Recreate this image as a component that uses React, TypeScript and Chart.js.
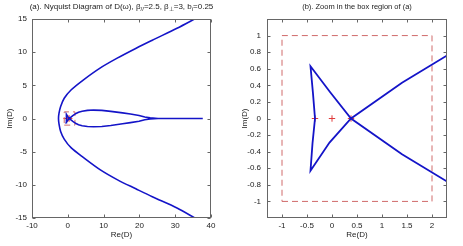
import React, { useEffect, useRef } from "react";
import { Chart, registerables } from "chart.js";
Chart.register(...registerables);

// Outer branch of D(omega)
const outerRe = [35.8, 30.5, 23.6, 19.1, 13.8, 9.0, 4.3, 0.9, -1.0, -2.0, -2.45, -2.6, -2.45, -2.0, -1.0, 0.9, 4.4, 9.1, 13.9, 19.0, 23.6, 30.5, 35.8];
const outerIm = [15.1, 13.6, 11.8, 10.6, 9.1, 7.6, 5.8, 4.3, 3.05, 1.8, 0.8, 0, -0.85, -1.95, -3.1, -4.4, -5.9, -7.75, -9.25, -10.6, -11.8, -13.5, -15.1];

// Inner loop branch
const loopRe = [37.7, 25.2, 23, 21.5, 19.9, 17.5, 15.3, 12, 9.5, 7.2, 5.5, 4, 3.0, 2.3, 1.4, 0.38, -0.05, -0.43, -0.39, -0.34, -0.38, -0.43, -0.04, 0.38, 1.4, 2.3, 3.0, 4, 5.5, 7.2, 9.5, 12, 15.3, 17.5, 19.9, 21.5, 23, 25.2, 37.7];
const loopIm = [0, 0, 0.1, 0.22, 0.45, 0.68, 0.85, 1.08, 1.22, 1.27, 1.22, 1.1, 0.95, 0.76, 0.43, 0, -0.29, -0.63, -0.3, 0, 0.3, 0.63, 0.32, 0, -0.43, -0.76, -0.95, -1.1, -1.2, -1.25, -1.2, -1.05, -0.8, -0.62, -0.42, -0.2, -0.08, 0, 0];

// Red "+" markers
const markRe = [-0.34, 0, 0.38];
const markIm = [0, 0, 0];

// Zoom box
const boxRe = [-1, 2, 2, -1, -1];
const boxIm = [-1, -1, 1, 1, -1];

// Ticks
const leftXTicks = [-10, 0, 10, 20, 30, 40];
const leftYTicks = [-15, -10, -5, 0, 5, 10, 15];
const rightXTicks = [-1, -0.5, 0, 0.5, 1, 1.5, 2];
const rightYTicks = [-1, -0.8, -0.6, -0.4, -0.2, 0, 0.2, 0.4, 0.6, 0.8, 1];

const leftTitle = [
  { t: "(a). Nyquist Diagram of D(\u03c9), \u03b2" },
  { t: "//", sub: true },
  { t: "=2.5, \u03b2" },
  { t: "\u22a5", sub: true },
  { t: "=3, b" },
  { t: "i", sub: true },
  { t: "=0.25" },
];
const rightTitle = [{ t: "(b). Zoom in the box region of (a)" }];

const FONT = "Liberation Sans, Arial, sans-serif";
const zip = (a: number[], b: number[]) => a.map((x, i) => ({ x, y: b[i] }));
const fmt = (v: number) => String(Math.round(v * 10) / 10);

const framePlugin = {
  id: "frame",
  afterDraw(chart: any, _args: any, opts: any) {
    const { ctx, chartArea: a, scales } = chart;
    const L = Math.round(a.left) + 0.5, R = Math.round(a.right) - 0.5;
    const T = Math.round(a.top) + 0.5, B = Math.round(a.bottom) - 0.5;
    ctx.save();
    ctx.strokeStyle = "#666";
    ctx.lineWidth = 1;
    ctx.strokeRect(L, T, R - L, B - T);
    ctx.beginPath();
    const tl = 3;
    for (const v of opts.xTicks) {
      const p = Math.round(scales.x.getPixelForValue(v)) + 0.5;
      ctx.moveTo(p, B); ctx.lineTo(p, B - tl);
      ctx.moveTo(p, T); ctx.lineTo(p, T + tl);
    }
    for (const v of opts.yTicks) {
      const p = Math.round(scales.y.getPixelForValue(v)) + 0.5;
      ctx.moveTo(L, p); ctx.lineTo(L + tl, p);
      ctx.moveTo(R, p); ctx.lineTo(R - tl, p);
    }
    ctx.stroke();

    ctx.fillStyle = "#222";
    ctx.textBaseline = "middle";
    const fs = opts.titleSize;
    const subFs = fs * 0.75;
    let total = 0;
    for (const s of opts.title) {
      ctx.font = `${s.sub ? subFs : fs}px ${FONT}`;
      total += ctx.measureText(s.t).width;
    }
    let x = (a.left + a.right) / 2 - total / 2;
    ctx.textAlign = "left";
    for (const s of opts.title) {
      ctx.font = `${s.sub ? subFs : fs}px ${FONT}`;
      ctx.fillText(s.t, x, opts.titleY + (s.sub ? 2.5 : 0));
      x += ctx.measureText(s.t).width;
    }
    ctx.font = `8px ${FONT}`;
    ctx.textAlign = "center";
    ctx.fillText("Re(D)", (a.left + a.right) / 2, 235);
    ctx.save();
    ctx.translate(opts.ylabX, (a.top + a.bottom) / 2);
    ctx.rotate(-Math.PI / 2);
    ctx.fillText("Im(D)", 0, 0);
    ctx.restore();
    ctx.restore();
  },
};

type PanelProps = {
  left: number;
  width: number;
  xMin: number; xMax: number; yMin: number; yMax: number;
  xTicks: number[]; yTicks: number[];
  yAxisW: number; padRight: number;
  title: { t: string; sub?: boolean }[];
  titleSize: number;
  ylabX: number;
  yPad: number;
  lineW: number;
};

function Panel(p: PanelProps) {
  const ref = useRef<HTMLCanvasElement | null>(null);
  useEffect(() => {
    if (!ref.current) return;
    const blue = "#1414c8";
    const chart = new Chart(ref.current, {
      type: "scatter",
      data: {
        datasets: [
          {
            data: zip(outerRe, outerIm),
            showLine: true,
            borderColor: blue,
            borderWidth: p.lineW,
            pointRadius: 0,
            tension: 0.3,
          },
          {
            data: zip(loopRe, loopIm),
            showLine: true,
            borderColor: blue,
            borderWidth: p.lineW,
            pointRadius: 0,
            tension: 0,
          },
          {
            data: zip(boxRe, boxIm),
            showLine: true,
            borderColor: "#d06a6a",
            borderWidth: 1,
            borderDash: [6, 4],
            pointRadius: 0,
          },
          {
            data: zip(markRe, markIm),
            showLine: false,
            pointStyle: "cross",
            pointRadius: 3.2,
            borderColor: "#e03a3a",
            backgroundColor: "#e03a3a",
            borderWidth: 1,
          },
        ],
      },
      options: {
        animation: false,
        responsive: false,
        events: [],
        layout: { padding: { left: 0, right: p.padRight, top: 19, bottom: 0 } },
        plugins: {
          legend: { display: false },
          tooltip: { enabled: false },
          frame: {
            xTicks: p.xTicks,
            yTicks: p.yTicks,
            title: p.title,
            titleSize: p.titleSize,
            titleY: 7,
            ylabX: p.ylabX,
          },
        } as any,
        scales: {
          x: {
            type: "linear",
            min: p.xMin,
            max: p.xMax,
            grid: { display: false, drawTicks: false },
            border: { display: false },
            afterFit: (s: any) => { s.height = 28; },
            afterBuildTicks: (s: any) => { s.ticks = p.xTicks.map((v) => ({ value: v })); },
            ticks: {
              padding: 3,
              maxRotation: 0,
              autoSkip: false,
              color: "#222",
              font: { family: FONT, size: 8 },
              callback: (v: any) => fmt(Number(v)),
            },
          },
          y: {
            type: "linear",
            min: p.yMin,
            max: p.yMax,
            grid: { display: false, drawTicks: false },
            border: { display: false },
            afterFit: (s: any) => { s.width = p.yAxisW; },
            afterBuildTicks: (s: any) => { s.ticks = p.yTicks.map((v) => ({ value: v })); },
            ticks: {
              padding: p.yPad,
              autoSkip: false,
              color: "#222",
              font: { family: FONT, size: 8 },
              callback: (v: any) => fmt(Number(v)),
            },
          },
        },
      },
      plugins: [framePlugin],
    });
    return () => chart.destroy();
  }, []);
  return (
    <div style={{ position: "absolute", left: p.left, top: 0, width: p.width, height: 246 }}>
      <canvas ref={ref} width={p.width} height={246} style={{ display: "block" }} />
    </div>
  );
}

export default function App() {
  return (
    <div style={{ position: "fixed", left: 0, top: 0, width: 463, height: 246, background: "#fff", overflow: "hidden" }}>
      <Panel
        left={0}
        width={231}
        xMin={-10} xMax={40} yMin={-15} yMax={15}
        xTicks={leftXTicks} yTicks={leftYTicks}
        yAxisW={32} padRight={20}
        title={leftTitle}
        titleSize={8}
        ylabX={10}
        yPad={5}
        lineW={1.6}
      />
      <Panel
        left={231}
        width={232}
        xMin={-1.3} xMax={2.3} yMin={-1.2} yMax={1.2}
        xTicks={rightXTicks} yTicks={rightYTicks}
        yAxisW={36} padRight={16}
        title={rightTitle}
        titleSize={7.5}
        ylabX={14}
        yPad={6}
        lineW={1.8}
      />
    </div>
  );
}
